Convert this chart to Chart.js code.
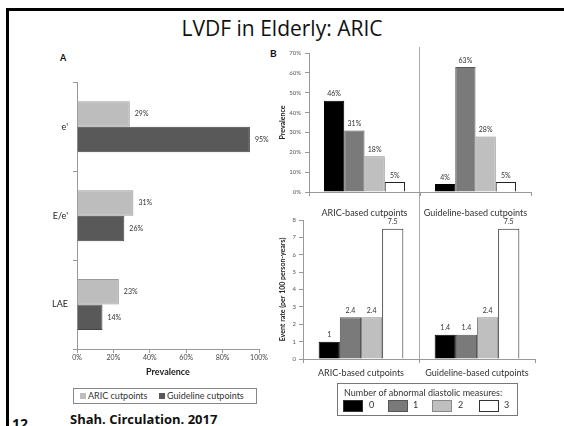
<!DOCTYPE html>
<html>
<head>
<meta charset="utf-8">
<script src="https://cdn.jsdelivr.net/npm/chart.js@4.4.0/dist/chart.umd.min.js"></script>
<style>
  body { margin: 0; background: #fff; }
  #slide { position: relative; width: 564px; height: 426px; overflow: hidden; background: #fff; font-family: Lato, sans-serif; color: #333; }
  #frameTop { position: absolute; left: 6px; top: 8px; width: 570px; height: 3px; background: #000; }
  #frameLeft { position: absolute; left: 6px; top: 8px; width: 3px; height: 430px; background: #000; }
  #title { position: absolute; left: 0; top: 14px; width: 564px; text-align: center; font: 21px "Open Sans", sans-serif; color: #111; }
  .panel { position: absolute; font: bold 9px Lato, sans-serif; color: #111; }
  canvas { position: absolute; }
  #legendA { position: absolute; left: 73px; top: 388px; width: 182px; height: 14px; border: 1px solid #888; font-size: 9px; line-height: 14px; }
  #legendA span { position: absolute; top: 0; }
  .sq { display: inline-block; width: 6px; height: 6px; margin-right: 2px; vertical-align: 0; }
  #legendB { position: absolute; left: 337px; top: 383px; width: 179px; height: 31px; border: 1px solid #777; font-size: 9px; }
  #legendB .head { position: absolute; left: 6px; top: 3px; white-space: nowrap; }
  #legendB .sw { position: absolute; top: 16px; width: 18px; height: 10px; border: 1px solid #333; }
  #legendB .lb { position: absolute; top: 15px; }
  #divider { position: absolute; left: 419px; top: 47px; width: 1px; height: 313px; background: #aaa; }
  #cite { position: absolute; left: 70px; top: 410px; font: bold 13px "Open Sans", sans-serif; color: #111; }
  #page { position: absolute; left: 12px; top: 414px; font: bold 14px "Open Sans", sans-serif; color: #111; }
</style>
</head>
<body>
<div id="slide">
  <div id="frameTop"></div>
  <div id="frameLeft"></div>
  <div id="title">LVDF in Elderly: ARIC</div>
  <div class="panel" style="left:60px;top:52px;">A</div>
  <div class="panel" style="left:270px;top:47px;font-size:10px;">B</div>

  <canvas id="chartA" width="235" height="308" style="left:40px;top:72px;"></canvas>
  <div id="legendA">
    <span style="left:6px;"><i class="sq" style="background:#bdbdbd"></i>ARIC cutpoints</span>
    <span style="left:85px;"><i class="sq" style="background:#595959"></i>Guideline cutpoints</span>
  </div>

  <div id="divider"></div>
  <canvas id="chartPrev" width="275" height="180" style="left:270px;top:45px;"></canvas>
  <canvas id="chartEvent" width="275" height="173" style="left:270px;top:212px;"></canvas>

  <div id="legendB">
    <div class="head">Number of abnormal diastolic measures:</div>
    <div class="sw" style="left:5px;background:#000;"></div><div class="lb" style="left:31px;">0</div>
    <div class="sw" style="left:50px;background:#7a7a7a;border-color:#555;"></div><div class="lb" style="left:75px;">1</div>
    <div class="sw" style="left:94px;background:#bfbfbf;border-color:#888;"></div><div class="lb" style="left:120px;">2</div>
    <div class="sw" style="left:141px;background:#fff;"></div><div class="lb" style="left:166px;">3</div>
  </div>

  <div id="cite">Shah. Circulation. 2017</div>
  <div id="page">12</div>
</div>

<script>
// panel A
const measures = ["e'", "E/e'", "LAE"];
const aricCutpoints = [29, 31, 23];
const guidelineCutpoints = [95, 26, 14];

// panel B
const cutpointGroups = ["ARIC-based cutpoints", "Guideline-based cutpoints"];
const abnormalCounts = ["0", "1", "2", "3"];
const prevalenceAric = [46, 31, 18, 5];
const prevalenceGuideline = [4, 63, 28, 5];
const eventRateAric = [1, 2.4, 2.4, 7.5];
const eventRateGuideline = [1.4, 1.4, 2.4, 7.5];

const countFills = ["#000000", "#7a7a7a", "#bfbfbf", "#ffffff"];
const countBorders = ["#000000", "#555555", "#8a8a8a", "#222222"];

Chart.defaults.font.family = "Lato, sans-serif";
Chart.defaults.color = "#333";
Chart.defaults.animation = false;
Chart.defaults.plugins.legend.display = false;
Chart.defaults.plugins.tooltip.enabled = false;

// draws the value next to every bar
const valueLabels = {
  id: "valueLabels",
  afterDatasetsDraw(chart, args, opts) {
    const ctx = chart.ctx;
    ctx.save();
    ctx.font = opts.size + "px Lato, sans-serif";
    ctx.fillStyle = "#333";
    chart.data.datasets.forEach((ds, i) => {
      chart.getDatasetMeta(i).data.forEach((bar, j) => {
        const txt = opts.format(ds.data[j]);
        if (chart.options.indexAxis === "y") {
          ctx.textAlign = "left";
          ctx.textBaseline = "middle";
          ctx.fillText(txt, bar.x + 5, bar.y);
        } else {
          ctx.textAlign = "center";
          ctx.textBaseline = "bottom";
          ctx.fillText(txt, bar.x, bar.y - 3);
        }
      });
    });
    ctx.restore();
  }
};

const axisGrey = "#999";

new Chart(document.getElementById("chartA"), {
  type: "bar",
  data: {
    labels: measures,
    datasets: [
      { label: "ARIC cutpoints", data: aricCutpoints, backgroundColor: "#bdbdbd", borderColor: "#9a9a9a", borderWidth: 1 },
      { label: "Guideline cutpoints", data: guidelineCutpoints, backgroundColor: "#595959", borderColor: "#444", borderWidth: 1 }
    ]
  },
  options: {
    responsive: false,
    indexAxis: "y",
    categoryPercentage: 0.573,
    barPercentage: 1,
    layout: { padding: { top: 5, right: 16, left: 0, bottom: 0 } },
    scales: {
      x: {
        min: 0, max: 100,
        ticks: { stepSize: 20, callback: v => v + "%", font: { size: 7 }, padding: 1, color: "#444" },
        grid: { drawOnChartArea: false, tickLength: 4, color: axisGrey },
        border: { color: axisGrey },
        title: { display: true, text: "Prevalence", font: { size: 9, weight: "bold" }, color: "#222", padding: { top: 0, bottom: 3 } },
        afterFit(s) { s.height = 31; }
      },
      y: {
        ticks: { font: { size: 9 }, padding: 5, color: "#222" },
        grid: { drawOnChartArea: false, tickLength: 4, color: axisGrey, offset: true },
        border: { color: axisGrey },
        afterFit(s) { s.width = 37; }
      }
    },
    plugins: { valueLabels: { size: 7, format: v => v + "%" } }
  },
  plugins: [valueLabels]
});

function countDatasets(aric, guideline) {
  return abnormalCounts.map((c, i) => ({
    label: c,
    data: [aric[i], guideline[i]],
    backgroundColor: countFills[i],
    borderColor: countBorders[i],
    borderWidth: 1
  }));
}

function panelB(id, aric, guideline, yOpts, xPad, xHeight, yWidth, padRight) {
  return new Chart(document.getElementById(id), {
    type: "bar",
    data: { labels: cutpointGroups, datasets: countDatasets(aric, guideline) },
    options: {
      responsive: false,
      categoryPercentage: 0.73,
      barPercentage: 1,
      layout: { padding: { top: 8, right: padRight, left: 0, bottom: 0 } },
      scales: {
        x: {
          ticks: { font: { size: 9 }, padding: xPad, color: "#333", maxRotation: 0 },
          grid: { drawOnChartArea: false, tickLength: 4, color: axisGrey },
          border: { color: axisGrey },
          afterFit(s) { s.height = xHeight; }
        },
        y: Object.assign({
          min: 0,
          grid: { drawOnChartArea: false, tickLength: 4, color: axisGrey },
          border: { color: axisGrey },
          afterFit(s) { s.width = yWidth; }
        }, yOpts)
      },
      plugins: { valueLabels: { size: 7, format: yOpts.fmt } }
    },
    plugins: [valueLabels]
  });
}

panelB("chartPrev", prevalenceAric, prevalenceGuideline, {
  max: 70,
  fmt: v => v + "%",
  ticks: { stepSize: 10, callback: v => v + "%", font: { size: 6 }, padding: 4, color: "#555" },
  title: { display: true, text: "Prevalence", font: { size: 7, weight: "bold" }, color: "#222", padding: { top: 9, bottom: 0 } }
}, 12, 33, 39, 14);

panelB("chartEvent", eventRateAric, eventRateGuideline, {
  max: 8,
  fmt: v => String(v),
  ticks: { stepSize: 1, font: { size: 6 }, padding: 3, color: "#555" },
  title: { display: true, text: "Event rate (per 100 person-years)", font: { size: 7, weight: "bold" }, color: "#222", padding: { top: 9, bottom: 0 } }
}, 5, 26, 33, 10);
</script>
</body>
</html>
